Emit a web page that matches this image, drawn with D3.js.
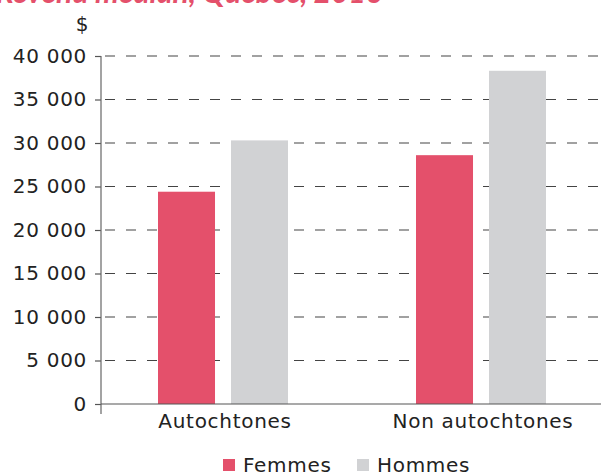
<!DOCTYPE html>
<html><head><meta charset="utf-8">
<script src="https://cdn.jsdelivr.net/npm/d3@7"></script>
<style>
html,body{margin:0;padding:0;background:#fff;}
svg{display:block;font-family:"DejaVu Sans", sans-serif;}
</style></head>
<body>
<svg id="chart" width="601" height="476"></svg>
<script>
const categories = ["Autochtones", "Non autochtones"];
const seriesNames = ["Femmes", "Hommes"];
const femmes = [24400, 28600];
const hommes = [30300, 38300];
const yTicks = [0, 5000, 10000, 15000, 20000, 25000, 30000, 35000, 40000];
const colors = ["#E4506B", "#D1D2D4"];
const title = "Revenu médian, Québec, 2016";

const svg = d3.select("#chart");
const W = 601, H = 476;
const axisX = 101;
const FONT = "DejaVu Sans, sans-serif";
const LS = "0.7px";
const y = d3.scaleLinear().domain([0, 40000]).range([404, 56]);
const x0 = d3.scaleBand().domain(categories).range([94, 610]).padding(0);
const x1 = d3.scaleBand().domain(seriesNames).range([-65, 65]).paddingInner(0.219);
const color = d3.scaleOrdinal().domain(seriesNames).range(colors);
const fmt = v => d3.format(",")(v).replace(/,/g, "\u00a0");

// title (cut off at the top, as in the reference)
svg.append("text").attr("x", 382).attr("y", 3).attr("text-anchor", "end")
  .attr("fill", "#E4506B").attr("font-size", 30).attr("font-weight", 700).attr("font-style", "italic")
  .attr("font-family", "Lato, sans-serif")
  .text(title);

// gridlines
svg.append("g").selectAll("line").data(yTicks.filter(d => d > 0)).join("line")
  .attr("x1", axisX + 4).attr("x2", W).attr("y1", d => y(d)).attr("y2", d => y(d))
  .attr("stroke", "#444").attr("stroke-width", 1.2).attr("stroke-dasharray", "10,11");

// bars
const data = categories.map((c, i) => ({cat: c, vals: [{k: "Femmes", v: femmes[i]}, {k: "Hommes", v: hommes[i]}]}));
const grp = svg.append("g").selectAll("g").data(data).join("g")
  .attr("transform", d => `translate(${x0(d.cat) + x0.bandwidth() / 2},0)`);
grp.selectAll("rect").data(d => d.vals).join("rect")
  .attr("x", d => x1(d.k)).attr("width", x1.bandwidth())
  .attr("y", d => y(d.v)).attr("height", d => y(0) - y(d.v))
  .attr("fill", d => color(d.k));

// y axis
const yAxis = d3.axisLeft(y).tickValues(yTicks).tickSize(6).tickPadding(8).tickFormat(fmt);
const gy = svg.append("g").attr("transform", `translate(${axisX},0)`).call(yAxis);
gy.select(".domain").remove();
gy.selectAll(".tick line").attr("stroke", "#555").attr("stroke-width", 1.2);
gy.selectAll(".tick text").attr("font-size", 20).attr("fill", "#222").attr("font-family", FONT)
  .attr("letter-spacing", LS);
svg.append("line").attr("x1", axisX).attr("x2", axisX).attr("y1", 56).attr("y2", 414)
  .attr("stroke", "#666").attr("stroke-width", 1.2);

// x axis baseline
svg.append("line").attr("x1", axisX).attr("x2", W).attr("y1", y(0)).attr("y2", y(0))
  .attr("stroke", "#555").attr("stroke-width", 1.2);
const xAxis = d3.axisBottom(x0).tickSize(0).tickPadding(10);
const gx = svg.append("g").attr("transform", `translate(0,${y(0)})`).call(xAxis);
gx.select(".domain").remove();
gx.selectAll(".tick").attr("transform", d => `translate(${x0(d) + x0.bandwidth() / 2 + 2},0)`);
gx.selectAll(".tick text").attr("font-size", 20).attr("fill", "#222").attr("font-family", FONT)
  .attr("letter-spacing", LS);

// unit label
svg.append("text").attr("x", 82).attr("y", 31).attr("text-anchor", "middle")
  .attr("font-size", 20).attr("fill", "#222").attr("font-family", FONT).text("$");

// legend
const leg = svg.append("g");
const legX = [223, 357];
seriesNames.forEach((s, i) => {
  leg.append("rect").attr("x", legX[i]).attr("y", 459).attr("width", 12).attr("height", 12).attr("fill", colors[i]);
  leg.append("text").attr("x", legX[i] + 20).attr("y", 472).attr("font-size", 20).attr("fill", "#222")
    .attr("font-family", FONT).attr("letter-spacing", LS).text(s);
});
</script>
</body></html>
